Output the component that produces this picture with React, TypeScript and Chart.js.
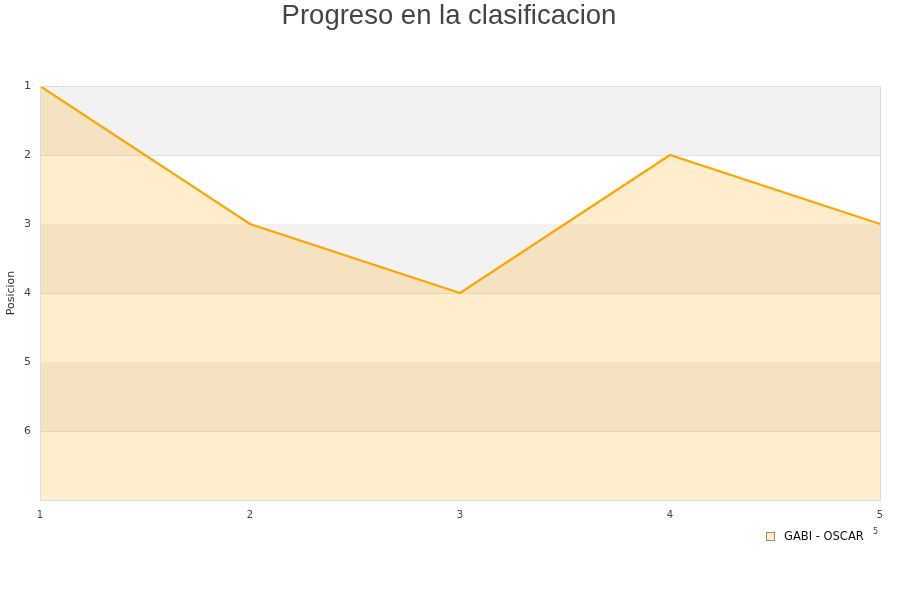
import React, { useEffect, useRef } from "react";
import { Chart, registerables } from "chart.js";

Chart.register(...registerables);

const jornadas = ["1", "2", "3", "4", "5"];
const posiciones = [1, 3, 4, 2, 3];
const serieNombre = "GABI - OSCAR";
const titulo = "Progreso en la clasificacion";
const ejeY = "Posicion";

const lineColor = "#ffa500";
const fillColor = "rgba(255,165,0,0.2)";
const bandColor = "#f2f2f2";
const tickFont = "DejaVu Sans";

// Alternating horizontal bands, frame, title and legend drawn around the plot
const decor = {
  id: "decor",
  beforeDatasetsDraw(chart: any) {
    const { ctx, chartArea: a, scales } = chart;
    const y = scales.y;
    ctx.save();
    ctx.fillStyle = bandColor;
    for (let v = y.min; v < y.max; v += 2) {
      const y1 = y.getPixelForValue(v);
      const y2 = y.getPixelForValue(v + 1);
      ctx.fillRect(a.left, Math.min(y1, y2), a.right - a.left, Math.abs(y2 - y1));
    }
    ctx.restore();
  },
  afterDatasetsDraw(chart: any) {
    const { ctx, chartArea: a } = chart;
    ctx.save();
    ctx.strokeStyle = "#dddddd";
    ctx.lineWidth = 1;
    ctx.strokeRect(a.left + 0.5, a.top + 0.5, a.right - a.left, a.bottom - a.top);
    ctx.restore();
  },
  afterDraw(chart: any) {
    const { ctx, width } = chart;
    ctx.save();
    ctx.fillStyle = "#444444";
    ctx.font = "27.5px 'Liberation Sans', Arial, sans-serif";
    ctx.textAlign = "center";
    ctx.textBaseline = "middle";
    ctx.fillText(titulo, width / 2 - 1, 16);

    // legend
    ctx.fillStyle = fillColor;
    ctx.fillRect(766.5, 532.5, 8, 8);
    ctx.strokeStyle = "#a08a6a";
    ctx.lineWidth = 1;
    ctx.strokeRect(766.5, 532.5, 8, 8);
    ctx.fillStyle = "#111111";
    ctx.font = `11.5px '${tickFont}'`;
    ctx.textAlign = "left";
    ctx.textBaseline = "middle";
    ctx.fillText(serieNombre, 784, 537);
    ctx.fillStyle = "#444444";
    ctx.font = `8px '${tickFont}'`;
    ctx.fillText("5", 873, 532);
    ctx.restore();
  },
};

export default function App() {
  const ref = useRef<HTMLCanvasElement>(null);

  useEffect(() => {
    if (!ref.current) return;
    const chart = new Chart(ref.current, {
      type: "line",
      data: {
        labels: jornadas,
        datasets: [
          {
            label: serieNombre,
            data: posiciones,
            borderColor: lineColor,
            backgroundColor: fillColor,
            borderWidth: 2.2,
            pointRadius: 0,
            tension: 0,
            fill: { value: 7 },
          },
        ],
      },
      options: {
        responsive: false,
        animation: false,
        layout: { padding: { top: 86, left: 0, right: 20, bottom: 70 } },
        plugins: {
          legend: { display: false },
          title: { display: false },
          tooltip: { enabled: false },
        },
        scales: {
          x: {
            offset: false,
            grid: { display: false, drawTicks: false },
            border: { display: false },
            ticks: {
              color: "#444444",
              font: { family: tickFont, size: 10 },
              padding: 9,
              maxRotation: 0,
            },
            afterFit(s: any) {
              s.height = 30;
            },
          },
          y: {
            reverse: true,
            min: 1,
            max: 7,
            grid: { color: "#e0e0e0", drawTicks: false },
            border: { display: false },
            ticks: {
              stepSize: 1,
              color: "#444444",
              font: { family: tickFont, size: 11 },
              padding: 9,
              callback: (v: any) => (v === 7 ? "" : String(v)),
            },
            title: {
              display: true,
              text: ejeY,
              color: "#333333",
              font: { family: tickFont, size: 11 },
              padding: { top: 5, bottom: 0 },
            },
            afterFit(s: any) {
              s.width = 40;
            },
          },
        },
      },
      plugins: [decor],
    });
    return () => chart.destroy();
  }, []);

  return (
    <div style={{ position: "absolute", left: 0, top: 0, width: 900, height: 600, background: "#fff" }}>
      <canvas ref={ref} width={900} height={600} />
    </div>
  );
}
